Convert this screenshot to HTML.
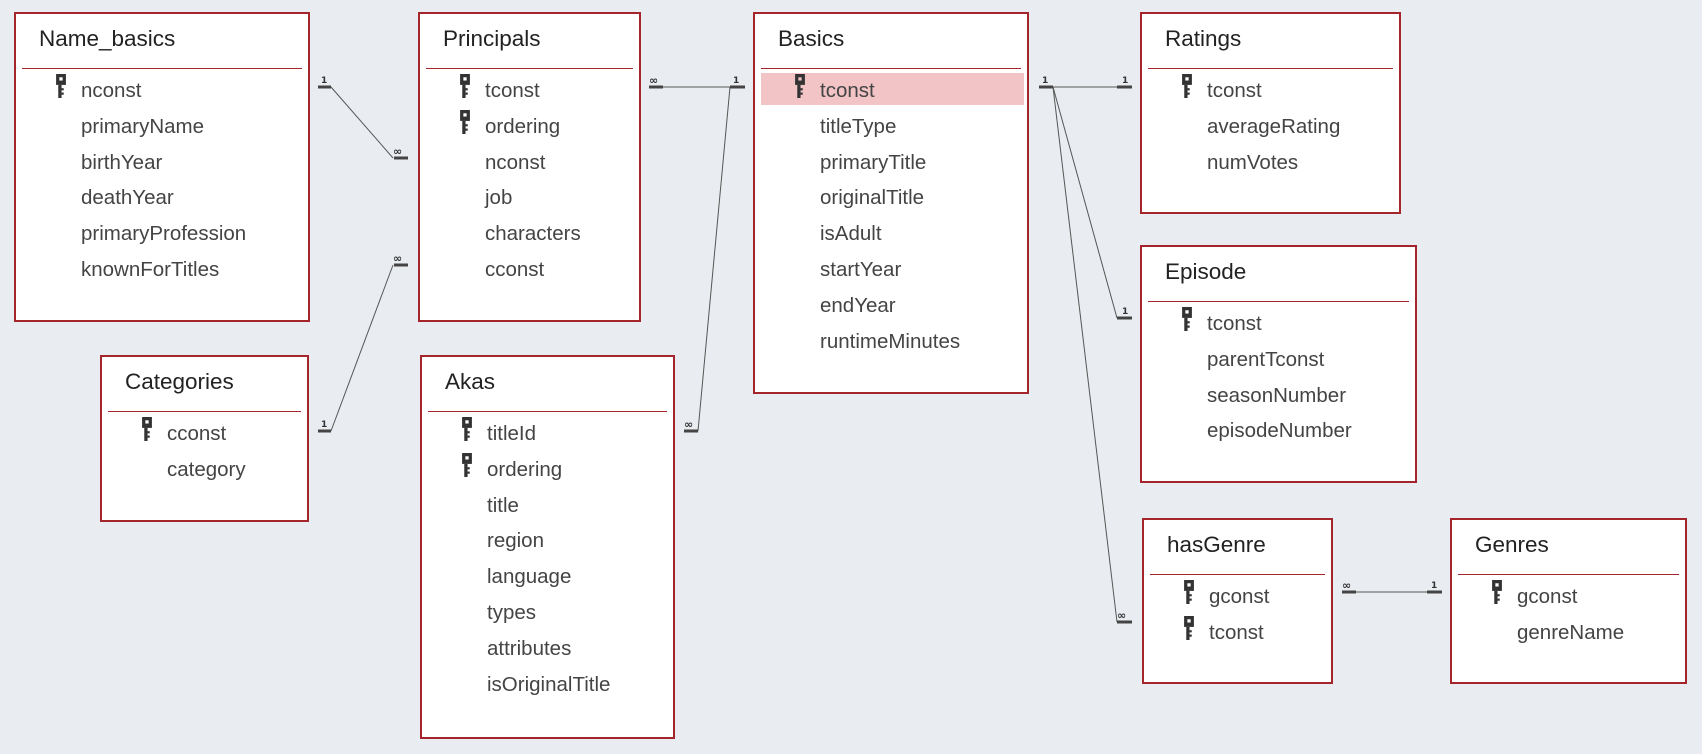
<!DOCTYPE html>
<html><head><meta charset="utf-8"><style>
body{margin:0;width:1702px;height:754px;background:#e9edf1;position:relative;overflow:hidden;font-family:"Segoe UI","Liberation Sans","DejaVu Sans",sans-serif}
.t{position:absolute;background:#fff;border:2px solid #a4262c;box-sizing:border-box}
.t h{display:block;position:absolute;left:23px;top:12px;font-size:22.5px;color:#222}
.t .sep{position:absolute;left:6px;right:6px;top:54px;height:1px;background:#a4262c}
.f{position:absolute;left:65px;font-size:20.5px;color:#444;line-height:24px}
.k{position:absolute;left:40px;width:10px;height:24px}
svg{position:absolute;left:0;top:0}
</style></head><body>
<svg width="1702" height="754" style="z-index:0">
<g stroke="#555" stroke-width="1" fill="none">
<line x1="331" y1="87" x2="393" y2="158"/>
<line x1="331" y1="431" x2="393" y2="265"/>
<line x1="663" y1="87" x2="730" y2="87"/>
<line x1="698" y1="431" x2="730" y2="87"/>
<line x1="1053" y1="87" x2="1117" y2="87"/>
<line x1="1053" y1="87" x2="1117" y2="318"/>
<line x1="1053" y1="87" x2="1117" y2="622"/>
<line x1="1356" y1="592" x2="1427" y2="592"/>
</g>
<g stroke="#444" stroke-width="3">
<line x1="318" y1="87" x2="331" y2="87"/><line x1="394" y1="158" x2="408" y2="158"/>
<line x1="318" y1="431" x2="331" y2="431"/><line x1="394" y1="265" x2="408" y2="265"/>
<line x1="649" y1="87" x2="663" y2="87"/><line x1="730" y1="87" x2="745" y2="87"/>
<line x1="684" y1="431" x2="698" y2="431"/>
<line x1="1039" y1="87" x2="1053" y2="87"/><line x1="1117" y1="87" x2="1132" y2="87"/>
<line x1="1117" y1="318" x2="1132" y2="318"/><line x1="1117" y1="622" x2="1132" y2="622"/>
<line x1="1342" y1="592" x2="1356" y2="592"/><line x1="1427" y1="592" x2="1442" y2="592"/>
</g>
<g font-family="DejaVu Sans,sans-serif" font-size="11" font-weight="bold" fill="#333">
<text x="321" y="83" font-size="9">1</text><text x="393" y="155">∞</text>
<text x="321" y="427" font-size="9">1</text><text x="393" y="262">∞</text>
<text x="649" y="84">∞</text><text x="733" y="83" font-size="9">1</text>
<text x="684" y="428">∞</text>
<text x="1042" y="83" font-size="9">1</text><text x="1122" y="83" font-size="9">1</text>
<text x="1122" y="314" font-size="9">1</text><text x="1117" y="619">∞</text>
<text x="1342" y="589">∞</text><text x="1431" y="588" font-size="9">1</text>
</g>
</svg>

<div class="t" style="left:14px;top:12px;width:296px;height:310px"><h>Name_basics</h><div class="sep"></div>
<svg class="k" style="left:40px;top:60px" viewBox="0 0 9 22"><rect x="0" y="0" width="9" height="10" fill="#333"/><rect x="3" y="3" width="3" height="3" fill="#fff"/><rect x="2" y="10" width="3" height="12" fill="#333"/><rect x="5" y="13" width="2" height="2" fill="#333"/><rect x="5" y="17" width="2" height="2" fill="#333"/></svg>
<div class="f" style="top:65px">nconst</div><div class="f" style="top:101px">primaryName</div><div class="f" style="top:137px">birthYear</div><div class="f" style="top:172px">deathYear</div><div class="f" style="top:208px">primaryProfession</div><div class="f" style="top:244px">knownForTitles</div></div>

<div class="t" style="left:418px;top:12px;width:223px;height:310px"><h>Principals</h><div class="sep"></div>
<svg class="k" style="left:40px;top:60px" viewBox="0 0 9 22"><rect x="0" y="0" width="9" height="10" fill="#333"/><rect x="3" y="3" width="3" height="3" fill="#fff"/><rect x="2" y="10" width="3" height="12" fill="#333"/><rect x="5" y="13" width="2" height="2" fill="#333"/><rect x="5" y="17" width="2" height="2" fill="#333"/></svg>
<svg class="k" style="left:40px;top:96px" viewBox="0 0 9 22"><rect x="0" y="0" width="9" height="10" fill="#333"/><rect x="3" y="3" width="3" height="3" fill="#fff"/><rect x="2" y="10" width="3" height="12" fill="#333"/><rect x="5" y="13" width="2" height="2" fill="#333"/><rect x="5" y="17" width="2" height="2" fill="#333"/></svg>
<div class="f" style="top:65px">tconst</div><div class="f" style="top:101px">ordering</div><div class="f" style="top:137px">nconst</div><div class="f" style="top:172px">job</div><div class="f" style="top:208px">characters</div><div class="f" style="top:244px">cconst</div></div>

<div class="t" style="left:753px;top:12px;width:276px;height:382px"><h>Basics</h><div class="sep"></div>
<div style="position:absolute;left:6px;top:59px;width:263px;height:32px;background:#f2c4c6"></div>
<svg class="k" style="left:40px;top:60px" viewBox="0 0 9 22"><rect x="0" y="0" width="9" height="10" fill="#333"/><rect x="3" y="3" width="3" height="3" fill="#f2c4c6"/><rect x="2" y="10" width="3" height="12" fill="#333"/><rect x="5" y="13" width="2" height="2" fill="#333"/><rect x="5" y="17" width="2" height="2" fill="#333"/></svg>
<div class="f" style="top:65px">tconst</div><div class="f" style="top:101px">titleType</div><div class="f" style="top:137px">primaryTitle</div><div class="f" style="top:172px">originalTitle</div><div class="f" style="top:208px">isAdult</div><div class="f" style="top:244px">startYear</div><div class="f" style="top:280px">endYear</div><div class="f" style="top:316px">runtimeMinutes</div></div>

<div class="t" style="left:1140px;top:12px;width:261px;height:202px"><h>Ratings</h><div class="sep"></div>
<svg class="k" style="left:40px;top:60px" viewBox="0 0 9 22"><rect x="0" y="0" width="9" height="10" fill="#333"/><rect x="3" y="3" width="3" height="3" fill="#fff"/><rect x="2" y="10" width="3" height="12" fill="#333"/><rect x="5" y="13" width="2" height="2" fill="#333"/><rect x="5" y="17" width="2" height="2" fill="#333"/></svg>
<div class="f" style="top:65px">tconst</div><div class="f" style="top:101px">averageRating</div><div class="f" style="top:137px">numVotes</div></div>

<div class="t" style="left:1140px;top:245px;width:277px;height:238px"><h>Episode</h><div class="sep"></div>
<svg class="k" style="left:40px;top:60px" viewBox="0 0 9 22"><rect x="0" y="0" width="9" height="10" fill="#333"/><rect x="3" y="3" width="3" height="3" fill="#fff"/><rect x="2" y="10" width="3" height="12" fill="#333"/><rect x="5" y="13" width="2" height="2" fill="#333"/><rect x="5" y="17" width="2" height="2" fill="#333"/></svg>
<div class="f" style="top:65px">tconst</div><div class="f" style="top:101px">parentTconst</div><div class="f" style="top:137px">seasonNumber</div><div class="f" style="top:172px">episodeNumber</div></div>

<div class="t" style="left:100px;top:355px;width:209px;height:167px"><h>Categories</h><div class="sep"></div>
<svg class="k" style="left:40px;top:60px" viewBox="0 0 9 22"><rect x="0" y="0" width="9" height="10" fill="#333"/><rect x="3" y="3" width="3" height="3" fill="#fff"/><rect x="2" y="10" width="3" height="12" fill="#333"/><rect x="5" y="13" width="2" height="2" fill="#333"/><rect x="5" y="17" width="2" height="2" fill="#333"/></svg>
<div class="f" style="top:65px">cconst</div><div class="f" style="top:101px">category</div></div>

<div class="t" style="left:420px;top:355px;width:255px;height:384px"><h>Akas</h><div class="sep"></div>
<svg class="k" style="left:40px;top:60px" viewBox="0 0 9 22"><rect x="0" y="0" width="9" height="10" fill="#333"/><rect x="3" y="3" width="3" height="3" fill="#fff"/><rect x="2" y="10" width="3" height="12" fill="#333"/><rect x="5" y="13" width="2" height="2" fill="#333"/><rect x="5" y="17" width="2" height="2" fill="#333"/></svg>
<svg class="k" style="left:40px;top:96px" viewBox="0 0 9 22"><rect x="0" y="0" width="9" height="10" fill="#333"/><rect x="3" y="3" width="3" height="3" fill="#fff"/><rect x="2" y="10" width="3" height="12" fill="#333"/><rect x="5" y="13" width="2" height="2" fill="#333"/><rect x="5" y="17" width="2" height="2" fill="#333"/></svg>
<div class="f" style="top:65px">titleId</div><div class="f" style="top:101px">ordering</div><div class="f" style="top:137px">title</div><div class="f" style="top:172px">region</div><div class="f" style="top:208px">language</div><div class="f" style="top:244px">types</div><div class="f" style="top:280px">attributes</div><div class="f" style="top:316px">isOriginalTitle</div></div>

<div class="t" style="left:1142px;top:518px;width:191px;height:166px"><h>hasGenre</h><div class="sep"></div>
<svg class="k" style="left:40px;top:60px" viewBox="0 0 9 22"><rect x="0" y="0" width="9" height="10" fill="#333"/><rect x="3" y="3" width="3" height="3" fill="#fff"/><rect x="2" y="10" width="3" height="12" fill="#333"/><rect x="5" y="13" width="2" height="2" fill="#333"/><rect x="5" y="17" width="2" height="2" fill="#333"/></svg>
<svg class="k" style="left:40px;top:96px" viewBox="0 0 9 22"><rect x="0" y="0" width="9" height="10" fill="#333"/><rect x="3" y="3" width="3" height="3" fill="#fff"/><rect x="2" y="10" width="3" height="12" fill="#333"/><rect x="5" y="13" width="2" height="2" fill="#333"/><rect x="5" y="17" width="2" height="2" fill="#333"/></svg>
<div class="f" style="top:65px">gconst</div><div class="f" style="top:101px">tconst</div></div>

<div class="t" style="left:1450px;top:518px;width:237px;height:166px"><h>Genres</h><div class="sep"></div>
<svg class="k" style="left:40px;top:60px" viewBox="0 0 9 22"><rect x="0" y="0" width="9" height="10" fill="#333"/><rect x="3" y="3" width="3" height="3" fill="#fff"/><rect x="2" y="10" width="3" height="12" fill="#333"/><rect x="5" y="13" width="2" height="2" fill="#333"/><rect x="5" y="17" width="2" height="2" fill="#333"/></svg>
<div class="f" style="top:65px">gconst</div><div class="f" style="top:101px">genreName</div></div>
</body></html>
